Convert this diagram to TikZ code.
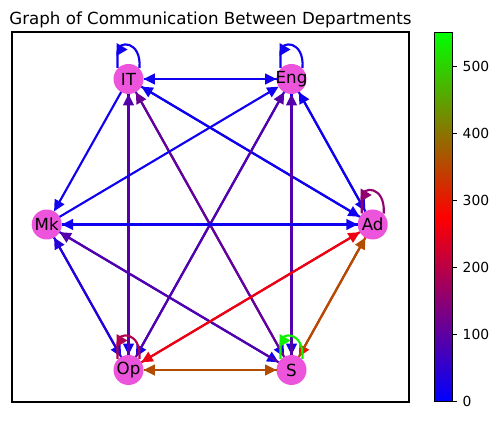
\documentclass[tikz,border=0pt]{standalone}
\usepackage{fontspec}
\setmainfont{DejaVu Sans}
\usetikzlibrary{arrows.meta,calc}

\definecolor{deptpink}{RGB}{236,84,220}
\colorlet{cBlue}{red!6!blue}
\colorlet{cIndigo}{red!15!blue}
\colorlet{cPurple}{red!33!blue}
\colorlet{cViolet}{red!42!blue}
\colorlet{cPlum}{red!57!blue}
\colorlet{cCrimson}{red!70!blue}
\colorlet{cRed}{red!92!blue}
\colorlet{cOrange}{green!8!red}
\colorlet{cBrown}{green!30!red}
\colorlet{cGreen}{green!94!red}

\tikzset{
  dept/.style={circle, fill=deptpink, minimum size=22.5pt, inner sep=0pt, outer sep=0pt},
  deptname/.style={font=\fontsize{12.5}{15}\selectfont},
  link/.style={line width=1.6pt, -{Triangle[length=8.5pt,width=8pt]}},
  ticklabel/.style={font=\fontsize{10.4}{12}\selectfont, anchor=west, inner sep=0pt},
}

% self loop above a department
\newcommand{\deptloop}[2]{%
  \draw[line width=1.6pt, #2] ($(#1)+(11,11)$) .. controls ($(#1)+(13,39)$) and ($(#1)+(-11,39)$) .. ($(#1)+(-11,27)$) -- ($(#1)+(-11,11)$);
  \fill[#2] ($(#1)+(-12,36)$) -- ($(#1)+(-1,29.5)$) -- ($(#1)+(-12,23)$) -- cycle;
}

\begin{document}
\begin{tikzpicture}[x=0.75pt,y=0.75pt]
\useasboundingbox (0,0) rectangle (498,420);

% Title
\node[deptname, anchor=base] (title) at (210.5,395) {Graph of Communication Between Departments};

% Axes frame
\draw[line width=0.83pt] (12,18) rectangle (409,388);

% Departments
\node[dept, label={[deptname]center:IT}] (IT) at (128.5,341) {};
\node[dept, label={[deptname]center:Eng}] (Eng) at (291.5,341) {};
\node[dept, label={[deptname]center:Mk}] (Mk) at (46.7,195.5) {};
\node[dept, label={[deptname]center:Ad}] (Ad) at (372.7,195.5) {};
\node[dept, label={[deptname]center:Op}] (Op) at (128.5,50) {};
\node[dept, label={[deptname]center:S}] (S) at (291.5,50) {};

% IT links
\draw[link, cBlue] (IT) -- (Eng);
\draw[link, cBlue] (Eng) -- (IT);
\draw[link, cBlue] (IT) -- (Mk);
\draw[link, cBlue] (IT) -- (Op);
\draw[link, cPurple] (Op) -- (IT);
\draw[link, cBlue] (IT) -- (S);
\draw[link, cViolet] (S) -- (IT);
\draw[link, cBlue] (IT) -- (Ad);
\draw[link, cBlue] (Ad) -- (IT);

% Eng links
\draw[link, cBlue] (Mk) -- (Eng);
\draw[link, cBlue] (Eng) -- (Op);
\draw[link, cPurple] (Op) -- (Eng);
\draw[link, cBlue] (Eng) -- (S);
\draw[link, cPurple] (S) -- (Eng);
\draw[link, cBlue] (Eng) -- (Ad);
\draw[link, cBlue] (Ad) -- (Eng);

% Mk links
\draw[link, cBlue] (Mk) -- (Ad);
\draw[link, cBlue] (Ad) -- (Mk);
\draw[link, cBlue] (Mk) -- (Op);
\draw[link, cIndigo] (Op) -- (Mk);
\draw[link, cBlue] (Mk) -- (S);
\draw[link, cPurple] (S) -- (Mk);

% Op, S and Ad links
\draw[link, cRed] (Op) -- (Ad);
\draw[link, cRed] (Ad) -- (Op);
\draw[link, cBrown] (Op) -- (S);
\draw[link, cBrown] (S) -- (Op);
\draw[link, cOrange] (Ad) -- (S);
\draw[link, cBrown] (S) -- (Ad);

% Self loops
\deptloop{IT}{cBlue}
\deptloop{Eng}{cBlue}
\deptloop{Ad}{cPlum}
\deptloop{Op}{cCrimson}
\deptloop{S}{cGreen}

% Colorbar
\shade[bottom color=blue, top color=red] (434.3,18.3) rectangle (452.3,202.8);
\shade[bottom color=red, top color=green] (434.3,202.8) rectangle (452.3,387.3);
\draw[line width=0.83pt] (434.3,18.3) rectangle (452.3,387.3);

% Colorbar ticks
\draw[line width=0.83pt] (452.3,18.3) -- (457.2,18.3) node[ticklabel, xshift=3.7pt] (t0) {0};
\draw[line width=0.83pt] (452.3,85.4) -- (457.2,85.4) node[ticklabel, xshift=3.7pt] (t100) {100};
\draw[line width=0.83pt] (452.3,152.5) -- (457.2,152.5) node[ticklabel, xshift=3.7pt] (t200) {200};
\draw[line width=0.83pt] (452.3,219.6) -- (457.2,219.6) node[ticklabel, xshift=3.7pt] (t300) {300};
\draw[line width=0.83pt] (452.3,286.7) -- (457.2,286.7) node[ticklabel, xshift=3.7pt] (t400) {400};
\draw[line width=0.83pt] (452.3,353.8) -- (457.2,353.8) node[ticklabel, xshift=3.7pt] (t500) {500};
\end{tikzpicture}
\end{document}
